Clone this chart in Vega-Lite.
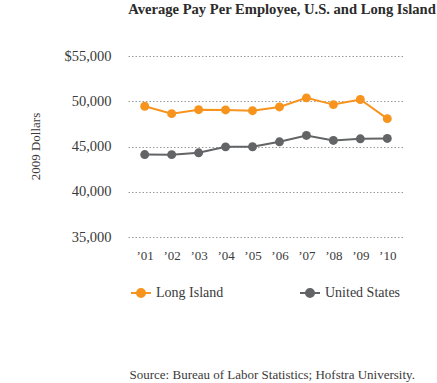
{
  "$schema": "https://vega.github.io/schema/vega-lite/v6.json",
  "width": 276,
  "height": 181,
  "autosize": {"type": "none"},
  "padding": {"left": 128, "top": 56, "right": 33, "bottom": 146},
  "background": "white",
  "config": {
    "font": "Liberation Serif",
    "view": {"stroke": null},
    "axis": {"labelFont": "Liberation Serif", "titleFont": "Liberation Serif"},
    "legend": {"labelFont": "Liberation Serif", "titleFont": "Liberation Serif"},
    "title": {"font": "Liberation Serif"}
  },
  "title": {
    "text": "Average Pay Per Employee, U.S. and Long Island",
    "font": "Liberation Serif",
    "fontSize": 14.6,
    "fontWeight": "bold",
    "color": "#2b2b2b",
    "anchor": "middle",
    "dx": 16,
    "offset": 31
  },
  "data": {
    "values": [
      {"year": "’01", "series": "Long Island", "pay": 49450},
      {"year": "’02", "series": "Long Island", "pay": 48630},
      {"year": "’03", "series": "Long Island", "pay": 49070},
      {"year": "’04", "series": "Long Island", "pay": 49040},
      {"year": "’05", "series": "Long Island", "pay": 48960},
      {"year": "’06", "series": "Long Island", "pay": 49370},
      {"year": "’07", "series": "Long Island", "pay": 50370},
      {"year": "’08", "series": "Long Island", "pay": 49630},
      {"year": "’09", "series": "Long Island", "pay": 50190},
      {"year": "’10", "series": "Long Island", "pay": 48080},
      {"year": "’01", "series": "United States", "pay": 44110},
      {"year": "’02", "series": "United States", "pay": 44100},
      {"year": "’03", "series": "United States", "pay": 44300},
      {"year": "’04", "series": "United States", "pay": 44960},
      {"year": "’05", "series": "United States", "pay": 44970},
      {"year": "’06", "series": "United States", "pay": 45520},
      {"year": "’07", "series": "United States", "pay": 46220},
      {"year": "’08", "series": "United States", "pay": 45670},
      {"year": "’09", "series": "United States", "pay": 45850},
      {"year": "’10", "series": "United States", "pay": 45890}
    ]
  },
  "encoding": {
    "x": {
      "field": "year",
      "type": "ordinal",
      "sort": null,
      "scale": {"type": "point", "padding": 0.62},
      "axis": {
        "title": "Source: Bureau of Labor Statistics; Hofstra University.",
        "titleFont": "Liberation Serif",
        "titleFontSize": 13,
        "titleFontWeight": "normal",
        "titleColor": "#3a3a3a",
        "titleX": 1,
        "titleY": 141,
        "titleAlign": "left",
        "titleAnchor": "start",
        "titleBaseline": "alphabetic",
        "domain": false,
        "ticks": false,
        "grid": false,
        "labelAngle": 0,
        "labelFont": "Liberation Serif",
        "labelFontSize": 13,
        "labelColor": "#3a3a3a",
        "labelPadding": 12
      }
    },
    "y": {
      "field": "pay",
      "type": "quantitative",
      "scale": {"domain": [35000, 55000], "nice": false, "zero": false},
      "axis": {
        "title": "2009 Dollars",
        "titleFont": "Liberation Serif",
        "titleFontSize": 13,
        "titleFontWeight": "normal",
        "titleColor": "#3a3a3a",
        "titleX": -93,
        "titleY": 90,
        "titleAngle": -90,
        "titleAlign": "center",
        "titleBaseline": "middle",
        "values": [35000, 40000, 45000, 50000, 55000],
        "labelExpr": "datum.value == 55000 ? '$55,000' : format(datum.value, ',')",
        "domain": false,
        "ticks": false,
        "labelFont": "Liberation Serif",
        "labelFontSize": 14.5,
        "labelColor": "#3a3a3a",
        "labelPadding": 17,
        "grid": true,
        "gridColor": "#9a9a9a",
        "gridDash": [1.5, 2],
        "gridWidth": 1
      }
    },
    "color": {
      "field": "series",
      "type": "nominal",
      "scale": {"domain": ["Long Island", "United States"], "range": ["#F7941D", "#636466"]},
      "legend": {
        "title": null,
        "orient": "none",
        "legendX": 2,
        "legendY": 226,
        "direction": "horizontal",
        "columnPadding": 72,
        "labelFont": "Liberation Serif",
        "labelFontSize": 14,
        "labelColor": "#3a3a3a",
        "labelOffset": 4,
        "symbolType": "M-1,0H-0.4M0.4,0H1M0.4,0A0.4,0.4 0 1,1 -0.4,0A0.4,0.4 0 1,1 0.4,0Z",
        "symbolSize": 400,
        "symbolStrokeWidth": 2,
        "encode": {
          "symbols": {
            "update": {
              "fill": {"scale": "color", "field": "value"},
              "stroke": {"scale": "color", "field": "value"}
            }
          }
        }
      }
    }
  },
  "layer": [
    {"mark": {"type": "line", "strokeWidth": 2}},
    {"mark": {"type": "point", "filled": true, "size": 80, "opacity": 1}}
  ]
}
